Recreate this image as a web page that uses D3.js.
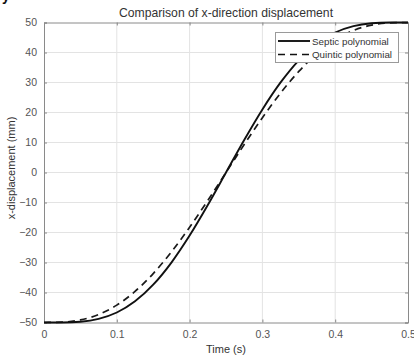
<!DOCTYPE html>
<html>
<head>
<meta charset="utf-8">
<script src="https://cdn.jsdelivr.net/npm/d3@7"></script>
<style>
  html, body { margin: 0; padding: 0; background: #fff; }
  svg { display: block; font-family: "Liberation Sans", Arial, sans-serif; }
</style>
</head>
<body>
<svg id="chart" width="414" height="361"></svg>
<script>
// Time samples (s)
const time = [0, 0.025, 0.05, 0.075, 0.1, 0.125, 0.15, 0.175, 0.2, 0.225, 0.25,
              0.275, 0.3, 0.325, 0.35, 0.375, 0.4, 0.425, 0.45, 0.475, 0.5];
// x-direction displacement (mm)
const septic = [-50, -49.98, -49.73, -48.79, -46.67, -42.94, -37.40, -30.02, -21.02, -10.83, 0,
                10.83, 21.02, 30.02, 37.40, 42.94, 46.67, 48.79, 49.73, 49.98, 50];
const quintic = [-50, -49.88, -49.14, -47.34, -44.21, -39.65, -33.69, -26.48, -18.26, -9.31, 0,
                 9.31, 18.26, 26.48, 33.69, 39.65, 44.21, 47.34, 49.14, 49.88, 50];
const xTicks = [0, 0.1, 0.2, 0.3, 0.4, 0.5];
const xTickLabels = ["0", "0.1", "0.2", "0.3", "0.4", "0.5"];
const yTicks = [-50, -40, -30, -20, -10, 0, 10, 20, 30, 40, 50];
const seriesNames = ["Septic polynomial", "Quintic polynomial"];

const svg = d3.select("#chart");
const m = { left: 44, right: 408, top: 22.5, bottom: 322.5 };

const x = d3.scaleLinear().domain([0, 0.5]).range([m.left, m.right]);
const y = d3.scaleLinear().domain([-50, 50]).range([m.bottom, m.top]);

const gridColor = "#e3e3e3";
const axisColor = "#8a8a8a";
const textColor = "#555";
const dashPattern = "7,5";

// grid
svg.append("g").selectAll("line.vx").data(xTicks.slice(1, -1)).join("line")
  .attr("x1", d => x(d)).attr("x2", d => x(d))
  .attr("y1", m.top).attr("y2", m.bottom)
  .attr("stroke", gridColor).attr("stroke-width", 1);
svg.append("g").selectAll("line.hy").data(yTicks.slice(1, -1)).join("line")
  .attr("x1", m.left).attr("x2", m.right)
  .attr("y1", d => y(d)).attr("y2", d => y(d))
  .attr("stroke", gridColor).attr("stroke-width", 1);

// axes (ticks pointing inward, box on all sides)
const tickLen = 3;
const xAxisB = d3.axisBottom(x).tickValues(xTicks).tickSize(-tickLen).tickPadding(8)
  .tickFormat((d, i) => xTickLabels[i]);
const xAxisT = d3.axisTop(x).tickValues(xTicks).tickSize(-tickLen).tickFormat("");
const yAxisL = d3.axisLeft(y).tickValues(yTicks).tickSize(-tickLen).tickPadding(7);
const yAxisR = d3.axisRight(y).tickValues(yTicks).tickSize(-tickLen).tickFormat("");

function styleAxis(g) {
  g.selectAll("path").attr("stroke", axisColor).attr("stroke-width", 1);
  g.selectAll("line").attr("stroke", axisColor);
  g.selectAll("text").attr("fill", textColor).attr("font-size", 10.5)
    .attr("font-family", "Liberation Sans, Arial, sans-serif");
}
svg.append("g").attr("transform", `translate(0,${m.bottom})`).call(xAxisB).call(styleAxis);
svg.append("g").attr("transform", `translate(0,${m.top})`).call(xAxisT).call(styleAxis);
svg.append("g").attr("transform", `translate(${m.left},0)`).call(yAxisL).call(styleAxis);
svg.append("g").attr("transform", `translate(${m.right},0)`).call(yAxisR).call(styleAxis);

// curves
const line = d3.line()
  .x((d, i) => x(time[i]))
  .y(d => y(d))
  .curve(d3.curveMonotoneX);

svg.append("path").datum(quintic)
  .attr("d", line).attr("fill", "none")
  .attr("stroke", "#1a1a1a").attr("stroke-width", 1.7)
  .attr("stroke-dasharray", dashPattern);
svg.append("path").datum(septic)
  .attr("d", line).attr("fill", "none")
  .attr("stroke", "#111").attr("stroke-width", 1.9);

// title and axis labels
svg.append("text").attr("x", (m.left + m.right) / 2).attr("y", 16.5)
  .attr("text-anchor", "middle").attr("font-size", 12.2).attr("fill", "#333")
  .text("Comparison of x-direction displacement");
svg.append("text").attr("x", (m.left + m.right) / 2).attr("y", 353)
  .attr("text-anchor", "middle").attr("font-size", 11).attr("fill", "#333")
  .text("Time (s)");
svg.append("text")
  .attr("transform", `translate(15,168) rotate(-90)`)
  .attr("text-anchor", "middle").attr("font-size", 11).attr("fill", "#333")
  .text("x-displacement (mm)");

// stray panel letter cut off at the top edge
svg.append("text").attr("x", 2).attr("y", 1).attr("font-size", 14)
  .attr("font-weight", "bold").attr("fill", "#111").text("y");

// legend
const lg = svg.append("g");
lg.append("rect").attr("x", 275.5).attr("y", 32.5).attr("width", 123).attr("height", 30)
  .attr("fill", "#fff").attr("stroke", "#9a9a9a").attr("stroke-width", 1);
const rows = [
  { name: seriesNames[0], dash: null, w: 1.9 },
  { name: seriesNames[1], dash: dashPattern, w: 1.7 }
];
rows.forEach((r, i) => {
  const yy = 41 + i * 13.5;
  lg.append("line").attr("x1", 278).attr("x2", 310).attr("y1", yy).attr("y2", yy)
    .attr("stroke", "#111").attr("stroke-width", r.w)
    .attr("stroke-dasharray", r.dash);
  lg.append("text").attr("x", 312).attr("y", yy + 3.5).attr("font-size", 9.8)
    .attr("fill", "#333").text(r.name);
});
</script>
</body>
</html>
